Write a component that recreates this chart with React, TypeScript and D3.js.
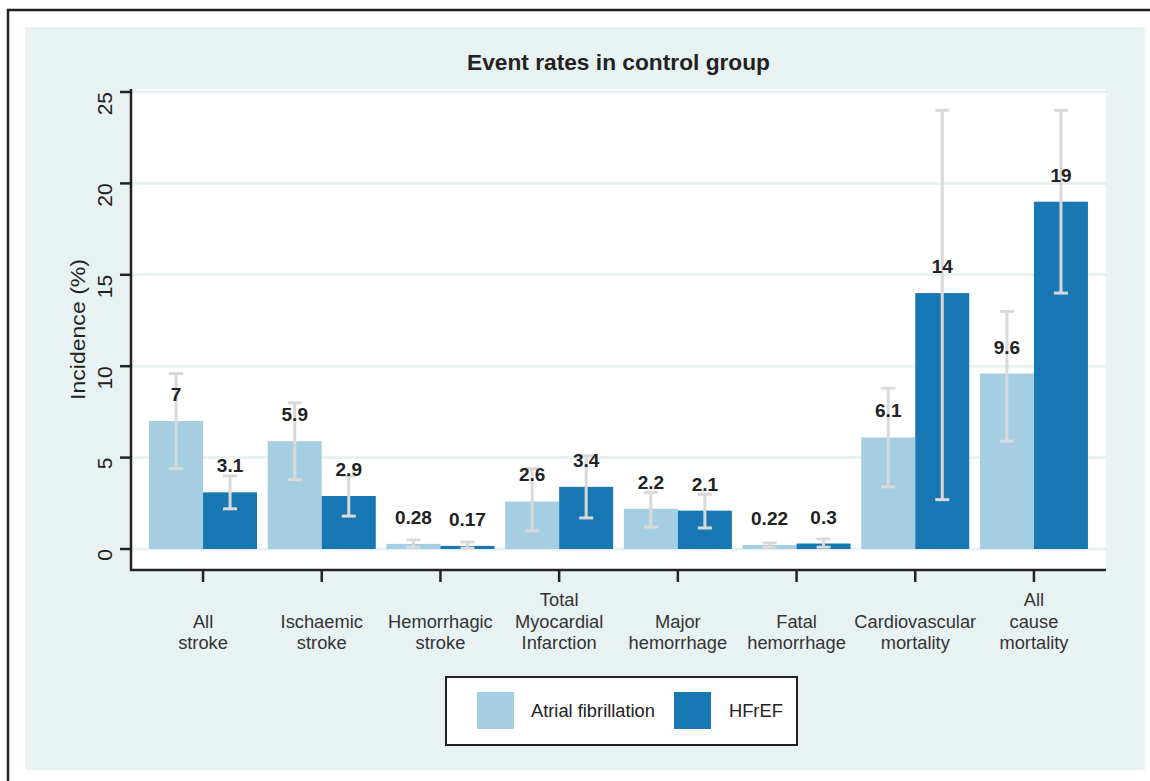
import React from "react";
import * as d3 from "d3";

const categories: string[][] = [
  ["All", "stroke"],
  ["Ischaemic", "stroke"],
  ["Hemorrhagic", "stroke"],
  ["Total", "Myocardial", "Infarction"],
  ["Major", "hemorrhage"],
  ["Fatal", "hemorrhage"],
  ["Cardiovascular", "mortality"],
  ["All", "cause", "mortality"],
];

const seriesNames = ["Atrial fibrillation", "HFrEF"];
const seriesColors = ["#a6cee3", "#1878b4"];

const afValues = [7, 5.9, 0.28, 2.6, 2.2, 0.22, 6.1, 9.6];
const afLower = [4.4, 3.8, 0.1, 1.0, 1.2, 0.1, 3.4, 5.9];
const afUpper = [9.6, 8.0, 0.5, 4.4, 3.1, 0.33, 8.8, 13.0];

const hfValues = [3.1, 2.9, 0.17, 3.4, 2.1, 0.3, 14, 19];
const hfLower = [2.2, 1.8, 0.05, 1.7, 1.15, 0.1, 2.7, 14.0];
const hfUpper = [4.0, 4.0, 0.38, 5.1, 3.0, 0.55, 24.0, 24.0];

const yTicks = [0, 5, 10, 15, 20, 25];

const W = 1150;
const H = 781;
const plot = { left: 131, right: 1106, top: 89, bottom: 570 };

export default function App() {
  const catKeys = categories.map((c) => c.join(" "));
  const x = d3
    .scaleBand<string>()
    .domain(catKeys)
    .range([plot.left, plot.right])
    .paddingInner(0.09)
    .paddingOuter(0.152);
  const xi = d3
    .scaleBand<string>()
    .domain(seriesNames)
    .range([0, x.bandwidth()])
    .padding(0);
  const y = d3.scaleLinear().domain([0, 25]).range([549, 92]);

  const series = [
    { name: seriesNames[0], values: afValues, lo: afLower, hi: afUpper, color: seriesColors[0] },
    { name: seriesNames[1], values: hfValues, lo: hfLower, hi: hfUpper, color: seriesColors[1] },
  ];

  const font = "Arial, 'Liberation Sans', Helvetica, sans-serif";
  const capHalf = 7;
  const barCenter = (k: string, name: string) =>
    (x(k) as number) + (xi(name) as number) + xi.bandwidth() / 2;

  return (
    <svg
      width={W}
      height={H}
      style={{ position: "absolute", left: 0, top: 0, background: "#fff" }}
      fontFamily={font}
    >
      {/* outer frame */}
      <rect x={8} y={10} width={W + 20} height={H + 20} fill="#fff" stroke="#222" strokeWidth={2.5} />
      {/* panel */}
      <rect x={25} y={27} width={1120} height={743} fill="#e9f2f3" />
      {/* plot area */}
      <rect x={plot.left} y={plot.top} width={plot.right - plot.left} height={plot.bottom - plot.top} fill="#fff" />

      {/* gridlines */}
      {yTicks.map((t) => (
        <line key={"g" + t} x1={plot.left} x2={plot.right} y1={y(t)} y2={y(t)} stroke="#e9f2f3" strokeWidth={3} />
      ))}

      {/* title */}
      <text
        x={(plot.left + plot.right) / 2}
        y={70}
        textAnchor="middle"
        fontSize={21.5}
        fontWeight="bold"
        fill="#222"
        textLength={303}
        lengthAdjust="spacingAndGlyphs"
      >
        Event rates in control group
      </text>

      {/* bars */}
      {series.map((s) =>
        catKeys.map((k, i) => (
          <rect
            key={s.name + k}
            x={(x(k) as number) + (xi(s.name) as number)}
            y={y(s.values[i])}
            width={xi.bandwidth()}
            height={y(0) - y(s.values[i])}
            fill={s.color}
          />
        ))
      )}

      {/* error bars */}
      {series.map((s) =>
        catKeys.map((k, i) => {
          const cx = barCenter(k, s.name);
          const yl = y(s.lo[i]);
          const yh = y(s.hi[i]);
          return (
            <g key={"e" + s.name + k} stroke="#d9d9d9" strokeWidth={3}>
              <line x1={cx} x2={cx} y1={yl} y2={yh} />
              <line x1={cx - capHalf} x2={cx + capHalf} y1={yl} y2={yl} />
              <line x1={cx - capHalf} x2={cx + capHalf} y1={yh} y2={yh} />
            </g>
          );
        })
      )}

      {/* value labels */}
      {series.map((s) =>
        catKeys.map((k, i) => (
          <text
            key={"l" + s.name + k}
            x={barCenter(k, s.name)}
            y={y(s.values[i]) - 20}
            textAnchor="middle"
            fontSize={19}
            fontWeight="bold"
            fill="#222"
          >
            {s.values[i]}
          </text>
        ))
      )}

      {/* y axis */}
      <line x1={plot.left} x2={plot.left} y1={plot.top} y2={plot.bottom + 1} stroke="#222" strokeWidth={2.5} />
      {yTicks.map((t) => (
        <g key={"yt" + t}>
          <line x1={plot.left - 11} x2={plot.left} y1={y(t)} y2={y(t)} stroke="#222" strokeWidth={2.5} />
          <text
            transform={`translate(${112},${y(t)}) rotate(-90)`}
            textAnchor="end"
            fontSize={21}
            fill="#222"
          >
            {t}
          </text>
        </g>
      ))}
      <text
        transform={`translate(${85},${(plot.top + plot.bottom) / 2}) rotate(-90)`}
        textAnchor="middle"
        fontSize={19.5}
        fill="#222"
        textLength={141}
        lengthAdjust="spacingAndGlyphs"
      >
        Incidence (%)
      </text>

      {/* x axis */}
      <line x1={plot.left - 1} x2={plot.right} y1={plot.bottom} y2={plot.bottom} stroke="#222" strokeWidth={2.5} />
      {categories.map((lines, i) => {
        const cx = (x(catKeys[i]) as number) + x.bandwidth() / 2;
        const n = lines.length;
        return (
          <g key={"xt" + i}>
            <line x1={cx} x2={cx} y1={plot.bottom} y2={plot.bottom + 12} stroke="#222" strokeWidth={2.5} />
            {lines.map((ln, j) => (
              <text key={j} x={cx} y={649 - (n - 1 - j) * 21.5} textAnchor="middle" fontSize={18.3} fill="#333">
                {ln}
              </text>
            ))}
          </g>
        );
      })}

      {/* legend */}
      <rect x={446} y={677} width={351} height={68} fill="#fff" stroke="#222" strokeWidth={2} />
      <rect x={477} y={692} width={37} height={37} fill={seriesColors[0]} />
      <text x={531} y={717} fontSize={18.3} fill="#222">
        {seriesNames[0]}
      </text>
      <rect x={674} y={692} width={37} height={37} fill={seriesColors[1]} />
      <text x={729} y={717} fontSize={18.3} fill="#222">
        {seriesNames[1]}
      </text>
    </svg>
  );
}
